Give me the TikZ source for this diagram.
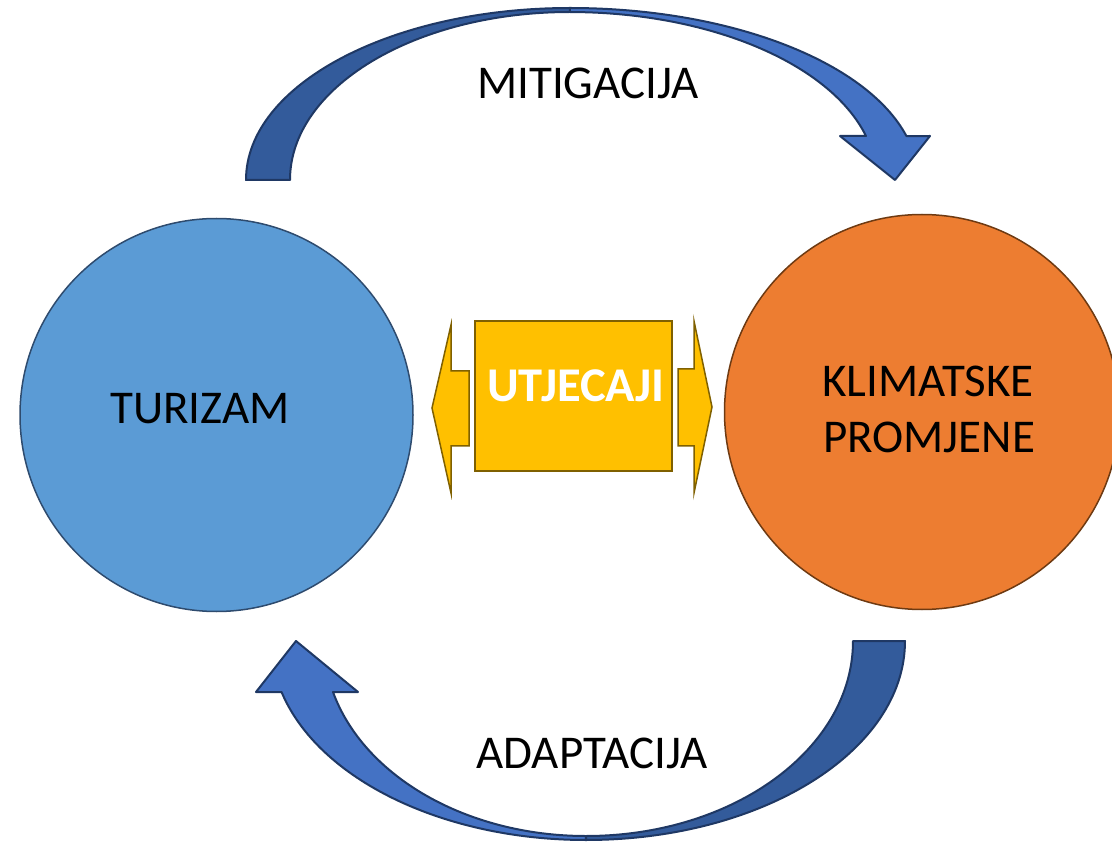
\documentclass[tikz,border=0pt]{standalone}
\usepackage{fontspec}
\setmainfont{Carlito}
\usetikzlibrary{shapes}
\definecolor{tourblue}{HTML}{5B9BD5}
\definecolor{tourline}{HTML}{2E4B6E}
\definecolor{climorange}{HTML}{ED7D31}
\definecolor{climline}{HTML}{6E3A12}
\definecolor{impactgold}{HTML}{FFC000}
\definecolor{impactline}{HTML}{7F6000}
\definecolor{arrowdark}{HTML}{335B9B}
\definecolor{arrowlight}{HTML}{4472C4}
\definecolor{arrowline}{HTML}{1F3864}

\begin{document}
\begin{tikzpicture}[x=1pt,y=-1pt,
  big/.style={font=\fontsize{47}{57}\selectfont, inner sep=0pt, anchor=base},
  band/.style={draw=arrowline, line width=2pt, line join=round},
  side/.style={draw=impactline, fill=impactgold, line width=1.5pt, line join=miter}]
\useasboundingbox (0,0) rectangle (1112,842);

% the two circles
\node[circle, minimum size=393pt, fill=tourblue, draw=tourline, line width=1.5pt] (turizam) at (216.5,415) {};
\node[circle, minimum size=395pt, fill=climorange, draw=climline, line width=1.5pt] (klima) at (922,412) {};
\node[big] (turizamtxt) at (200,424) {TURIZAM};
\node[big] (klimatxt) at (928,397) {KLIMATSKE};
\node[big] (promjenetxt) at (929,453) {PROMJENE};

% utjecaji in the middle
\draw[side] (469,371) -- (451,371) -- (451,325) -- (432,408) -- (451,493) -- (451,446) -- (469,446) -- cycle;
\draw[side] (678,369) -- (694,369) -- (694,321) -- (712,407) -- (694,493) -- (694,446) -- (678,446) -- cycle;
\node[draw=impactline, fill=impactgold, line width=2pt, minimum width=197pt, minimum height=150pt] (utjecaji) at (573.5,396) {};
\node[big, text=white, font=\fontsize{48.5}{58}\selectfont\bfseries] (utjecajitxt) at (576,402) {UTJECAJI};

% mitigacija, upper arrow
\draw[band, fill=arrowdark] (246,180) arc[start angle=180, end angle=270, x radius=324, y radius=172]
  -- (570,12) arc[start angle=270, end angle=180, x radius=280, y radius=168] -- cycle;
\draw[band, fill=arrowlight] (570,8) arc[start angle=270, end angle=345.2, x radius=348, y radius=172]
  -- (930,136) -- (895,180) -- (840,136) -- (866,136)
  arc[start angle=344.8, end angle=270, x radius=307, y radius=168] -- cycle;
\node[big] (mitigacija) at (588,99) {MITIGACIJA};

% adaptacija, lower arrow
\draw[band, fill=arrowdark] (905,641) arc[start angle=0, end angle=90, x radius=319, y radius=199]
  -- (586,836) arc[start angle=90, end angle=0, x radius=267, y radius=195] -- cycle;
\draw[band, fill=arrowlight] (586,840) arc[start angle=90, end angle=165.15, x radius=315, y radius=199]
  -- (256,692) -- (296,641) -- (358,692) -- (333,692)
  arc[start angle=164.84, end angle=90, x radius=262, y radius=195] -- cycle;
\node[big] (adaptacija) at (592,768) {ADAPTACIJA};

\end{tikzpicture}
\end{document}
